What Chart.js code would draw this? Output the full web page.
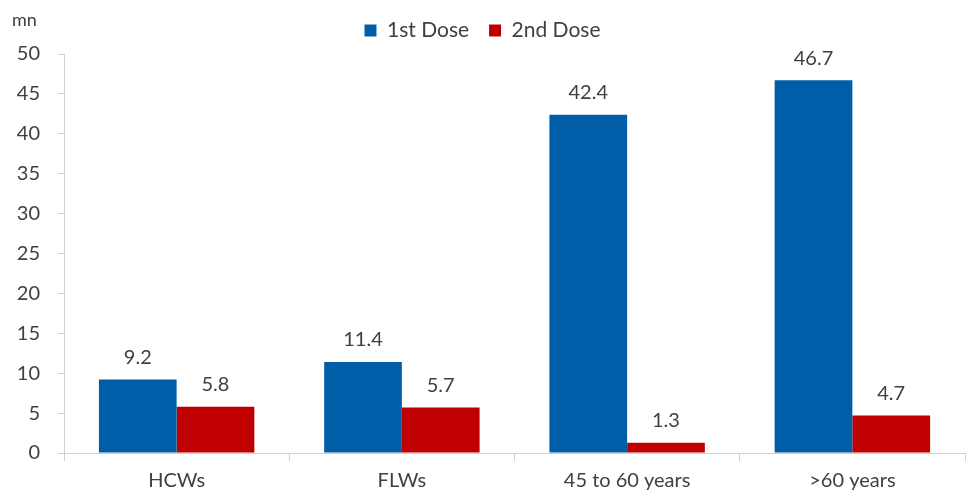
<!DOCTYPE html>
<html>
<head>
<meta charset="utf-8">
<script src="https://cdn.jsdelivr.net/npm/chart.js@4.4.0/dist/chart.umd.min.js"></script>
<style>
html,body{margin:0;padding:0;background:#fff;}
#wrap{width:970px;height:492px;position:relative;}
</style>
</head>
<body>
<div id="wrap"><canvas id="c" width="970" height="492"></canvas></div>
<script>
const categories = ["HCWs", "FLWs", "45 to 60 years", ">60 years"];
const firstDose = [9.2, 11.4, 42.4, 46.7];
const secondDose = [5.8, 5.7, 1.3, 4.7];
const seriesNames = ["1st Dose", "2nd Dose"];
const unitLabel = "mn";

const FONT = "Lato, 'Open Sans', sans-serif";
const TXT = "#404040";

const valueLabels = {
  id: "valueLabels",
  afterDatasetsDraw(chart) {
    const ctx = chart.ctx;
    ctx.save();
    ctx.font = "20px " + FONT;
    ctx.fillStyle = TXT;
    ctx.textAlign = "center";
    ctx.textBaseline = "bottom";
    chart.data.datasets.forEach((ds, i) => {
      const meta = chart.getDatasetMeta(i);
      meta.data.forEach((el, j) => {
        ctx.fillText(ds.data[j].toFixed(1), el.x, el.y - 12);
      });
    });
    ctx.restore();
  }
};

const unitText = {
  id: "unitText",
  afterDraw(chart) {
    const ctx = chart.ctx;
    ctx.save();
    ctx.font = "18px " + FONT;
    ctx.fillStyle = TXT;
    ctx.textAlign = "left";
    ctx.textBaseline = "middle";
    ctx.fillText(unitLabel, 12, 20);
    ctx.restore();
  }
};

const legendSpace = {
  id: "legendSpace",
  beforeInit(chart) {
    const origFit = chart.legend.fit;
    chart.legend.fit = function () {
      origFit.bind(this)();
      this.height += 3;
    };
  }
};

new Chart(document.getElementById("c"), {
  type: "bar",
  data: {
    labels: categories,
    datasets: [
      { label: seriesNames[0], data: firstDose, backgroundColor: "#005EA8", borderWidth: 0 },
      { label: seriesNames[1], data: secondDose, backgroundColor: "#C00000", borderWidth: 0 }
    ]
  },
  options: {
    responsive: false,
    animation: false,
    devicePixelRatio: 1,
    layout: { padding: { top: 0, right: 5, bottom: 0, left: 0 } },
    datasets: { bar: { categoryPercentage: 0.69, barPercentage: 1.0 } },
    plugins: {
      legend: {
        position: "top",
        labels: {
          font: { family: FONT, size: 21 },
          color: TXT,
          boxWidth: 12,
          boxHeight: 12,
          padding: 20
        }
      },
      tooltip: { enabled: false }
    },
    scales: {
      x: {
        grid: { display: true, drawOnChartArea: false, drawTicks: true, tickLength: 8, color: "#D0D0D0", offset: true },
        border: { display: true, color: "#D0D0D0", width: 1 },
        ticks: { font: { family: FONT, size: 20 }, color: TXT, padding: 8 },
        afterFit(scale) { scale.height = 39; }
      },
      y: {
        min: 0, max: 50,
        ticks: { stepSize: 5, font: { family: FONT, size: 20 }, color: TXT, padding: 18 },
        grid: { display: true, drawOnChartArea: false, drawTicks: true, tickLength: 6, color: "#D0D0D0" },
        border: { display: true, color: "#D0D0D0", width: 1 },
        afterFit(scale) { scale.width = 64; }
      }
    }
  },
  plugins: [valueLabels, unitText, legendSpace]
});
</script>
</body>
</html>
